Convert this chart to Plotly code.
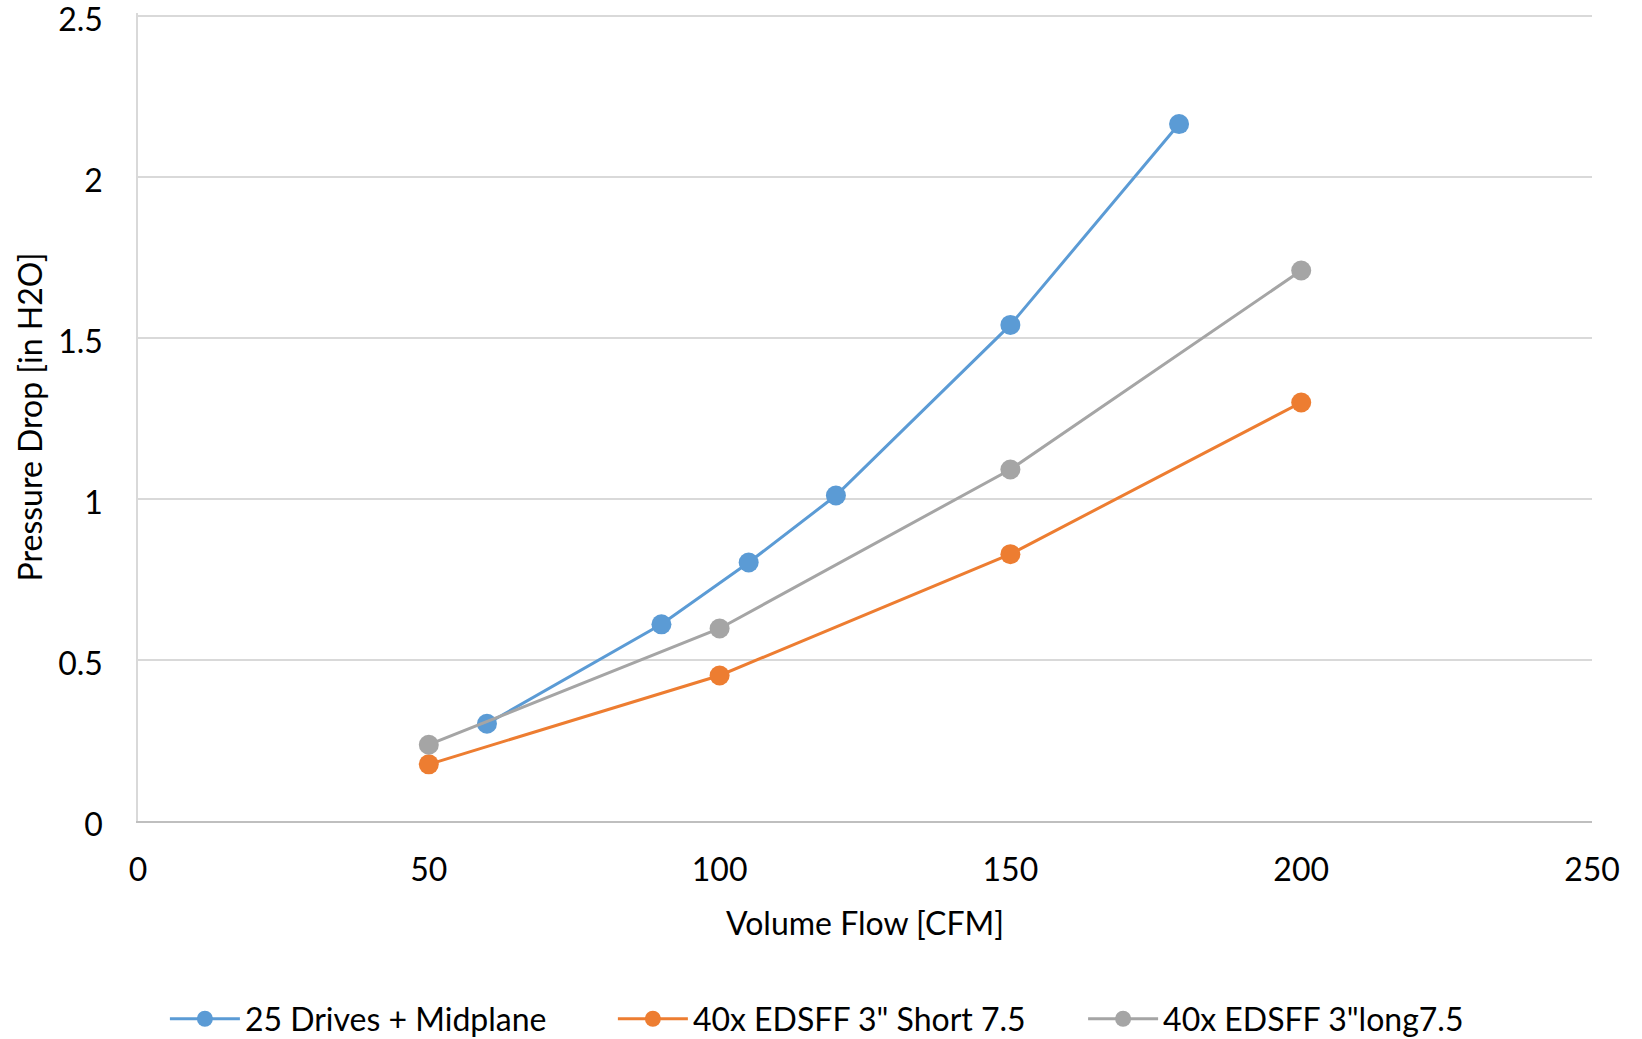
import plotly.graph_objects as go

# Data
blue_name = "25 Drives + Midplane"
blue_x = [60, 90, 105, 120, 150, 179]
blue_y = [0.302, 0.611, 0.803, 1.011, 1.541, 2.165]

orange_name = "40x EDSFF 3\" Short 7.5"
orange_x = [50, 100, 150, 200]
orange_y = [0.176, 0.452, 0.829, 1.300]

gray_name = "40x EDSFF 3\"long7.5"
gray_x = [50, 100, 150, 200]
gray_y = [0.237, 0.598, 1.092, 1.710]

x_ticks = [0, 50, 100, 150, 200, 250]
y_ticks = [0, 0.5, 1, 1.5, 2, 2.5]
y_tick_text = ["0", "0.5", "1", "1.5", "2", "2.5"]

FONT = "Lato"
FS = 32

fig = go.Figure()
series = [
    (blue_name, blue_x, blue_y, "#5B9BD5", "legend", 0.0185),
    (orange_name, orange_x, orange_y, "#ED7D31", "legend2", 0.3266),
    (gray_name, gray_x, gray_y, "#A5A5A5", "legend3", 0.6500),
]
for name, xs, ys, color, lg, _ in series:
    fig.add_trace(go.Scatter(
        x=xs, y=ys, name=name, mode="lines+markers",
        line=dict(color=color, width=3),
        marker=dict(color=color, size=20),
        legend=lg,
    ))

legend_common = dict(orientation="h", xanchor="left", y=-0.245, yanchor="middle",
                     font=dict(size=FS, family=FONT, color="#000000"), itemwidth=70,
                     bgcolor="rgba(0,0,0,0)")
fig.update_layout(
    width=1642, height=1039,
    margin=dict(l=138, r=50, t=13, b=218, autoexpand=False),
    plot_bgcolor="white", paper_bgcolor="white",
    font=dict(family=FONT, size=FS, color="#000000"),
    legend=dict(x=series[0][5], **legend_common),
    legend2=dict(x=series[1][5], **legend_common),
    legend3=dict(x=series[2][5], **legend_common),
    showlegend=True,
)
fig.update_xaxes(
    range=[0, 250], tickvals=x_ticks, showgrid=False, zeroline=False,
    showline=True, linecolor="#BFBFBF", linewidth=2,
    ticks="", ticklabelstandoff=20, automargin=False,
    title=dict(text="Volume Flow [CFM]", standoff=25, font=dict(size=FS)),
)
fig.update_yaxes(
    range=[0, 2.51], tickvals=y_ticks, ticktext=y_tick_text, showgrid=True,
    gridcolor="#D9D9D9", gridwidth=1.5, zeroline=False,
    showline=True, linecolor="#D9D9D9", linewidth=1.5,
    ticks="", ticklabelstandoff=27, automargin=False, ticklabeloverflow="allow",
    ticklabelshift=4,
    title=dict(text="Pressure Drop [in H2O]", standoff=6, font=dict(size=FS)),
)
fig.write_html("out.html", post_script="document.body.style.margin='0';",
               config={"displayModeBar": False})
